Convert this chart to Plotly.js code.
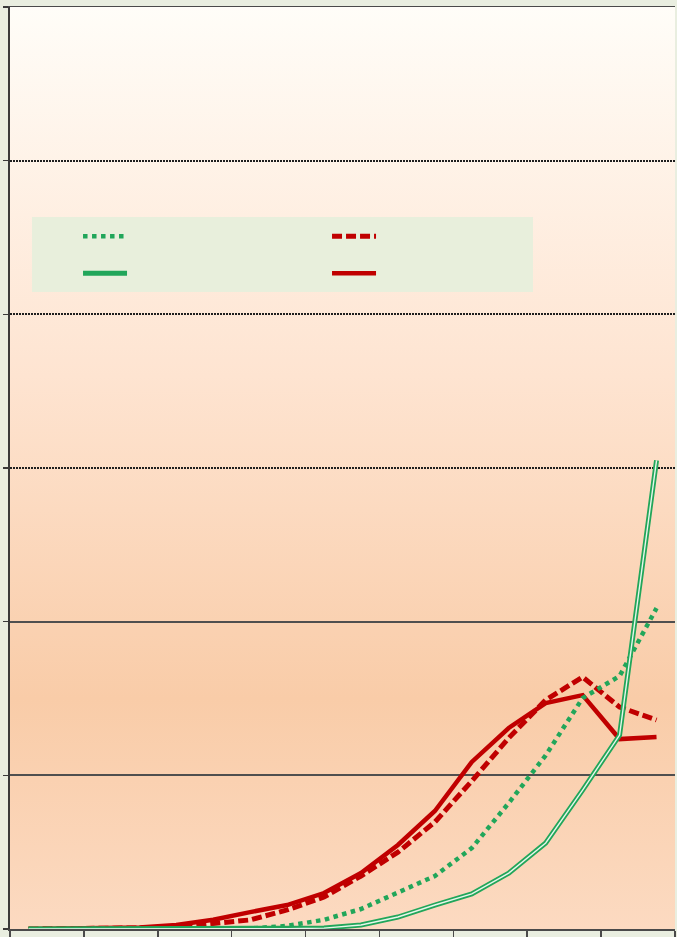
<!DOCTYPE html>
<html>
<head>
<meta charset="utf-8">
<script src="https://cdn.plot.ly/plotly-3.0.1.min.js"></script>
<style>html,body{margin:0;padding:0;background:#E9EEE0;}#chart{width:677px;height:937px;}</style>
</head>
<body>
<div id="chart"></div>
<script>
// 18 periods (two per tick interval)
const periods = [1,2,3,4,5,6,7,8,9,10,11,12,13,14,15,16,17,18];
const tickPositions = [0.5,2.5,4.5,6.5,8.5,10.5,12.5,14.5,16.5,18.5];
const yTicks = [0,1,2,3,4,5,6];
const dottedGridVals = [3,4,5];
const solidGridVals = [1,2];

const greenDotted = [0,0,0,0,0,0,0.003,0.02,0.06,0.13,0.234,0.345,0.527,0.82,1.13,1.503,1.646,2.088];
const redDashed   = [0,0,0.003,0.007,0.013,0.033,0.059,0.124,0.208,0.345,0.50,0.696,0.963,1.243,1.49,1.64,1.444,1.36];
const greenDouble = [0,0,0,0,0,0,0,0.002,0.006,0.026,0.078,0.156,0.228,0.364,0.56,0.904,1.262,3.05];
const redSolid    = [0,0.003,0.006,0.01,0.026,0.06,0.11,0.156,0.234,0.364,0.547,0.768,1.087,1.308,1.47,1.522,1.236,1.249];

const RED = '#C00000', GREEN = '#21A65A';

const traces = [
  {x: periods, y: redSolid, mode:'lines', name:' ', legendrank:4,
   line:{color:RED, width:4.5}, yaxis:'y', hoverinfo:'skip'},
  {x: periods, y: redDashed, mode:'lines', name:' ', legendrank:2,
   line:{color:RED, width:5, dash:'10px,4px'}, yaxis:'y', hoverinfo:'skip'},
  {x: periods, y: greenDotted, mode:'lines', name:' ', legendrank:1,
   line:{color:GREEN, width:4.5, dash:'dot'}, yaxis:'y2', hoverinfo:'skip'},
  {x: periods, y: greenDouble, mode:'lines', name:' ', legendrank:3,
   line:{color:GREEN, width:5}, yaxis:'y3', hoverinfo:'skip'},
  {x: periods, y: greenDouble, mode:'lines', showlegend:false,
   line:{color:'#E6F6EA', width:1.4}, yaxis:'y3', hoverinfo:'skip'}
];

const svg = '<svg xmlns="http://www.w3.org/2000/svg" width="100" height="100" preserveAspectRatio="none">' +
  '<defs><linearGradient id="g" x1="0" y1="0" x2="0" y2="1">' +
  '<stop offset="0" stop-color="#FFFDF8"/>' +
  '<stop offset="0.4" stop-color="#FEE4D1"/>' +
  '<stop offset="0.75" stop-color="#F9CCA8"/>' +
  '<stop offset="1" stop-color="#FCDAC1"/>' +
  '</linearGradient></defs><rect width="100" height="100" fill="url(#g)"/></svg>';

const yBase = {range:[0,6], showticklabels:false, zeroline:false, fixedrange:true};

const layout = {
  width:677, height:937,
  margin:{l:10, r:2, t:7, b:8},
  paper_bgcolor:'#E9EEE0',
  plot_bgcolor:'rgba(0,0,0,0)',
  showlegend:true,
  images:[{source:'data:image/svg+xml;utf8,' + encodeURIComponent(svg),
    xref:'paper', yref:'paper', x:0, y:1, sizex:1, sizey:1,
    xanchor:'left', yanchor:'top', sizing:'stretch', layer:'below'}],
  shapes:[{type:'rect', xref:'paper', yref:'paper', x0:0.0331, x1:0.7865, y0:0.6909, y1:0.7722,
    fillcolor:'#E8EFDC', line:{width:0}, layer:'above'}],
  xaxis:{range:[0.5,18.5], tickmode:'array', tickvals:tickPositions,
    ticks:'outside', ticklen:8, tickwidth:1.5, tickcolor:'#4a4a4a',
    showticklabels:false, showgrid:false, zeroline:false,
    showline:true, linecolor:'#4a4a4a', linewidth:1.5, mirror:true, fixedrange:true},
  yaxis:Object.assign({}, yBase, {tickmode:'array', tickvals:yTicks,
    ticks:'outside', ticklen:5, tickwidth:1.5, tickcolor:'#3a3a3a',
    showgrid:false, showline:true, linecolor:'#3a3a3a', linewidth:2}),
  yaxis2:Object.assign({}, yBase, {overlaying:'y', tickmode:'array', tickvals:dottedGridVals,
    ticks:'', showline:false, showgrid:true, gridcolor:'#1e1e1e', gridwidth:1.8, griddash:'1.5px,1.5px'}),
  yaxis3:Object.assign({}, yBase, {overlaying:'y', tickmode:'array', tickvals:solidGridVals,
    ticks:'', showline:false, showgrid:true, gridcolor:'#4f4f4f', gridwidth:1.8}),
  legend:{orientation:'h', x:0.1023, y:0.7766, xanchor:'left', yanchor:'top',
    bgcolor:'rgba(0,0,0,0)', borderwidth:0, font:{size:26, family:'Liberation Sans'},
    entrywidth:190, entrywidthmode:'pixels', itemwidth:44, traceorder:'normal'}
};

Plotly.newPlot('chart', traces, layout, {displayModeBar:false, staticPlot:true});
</script>
</body>
</html>
